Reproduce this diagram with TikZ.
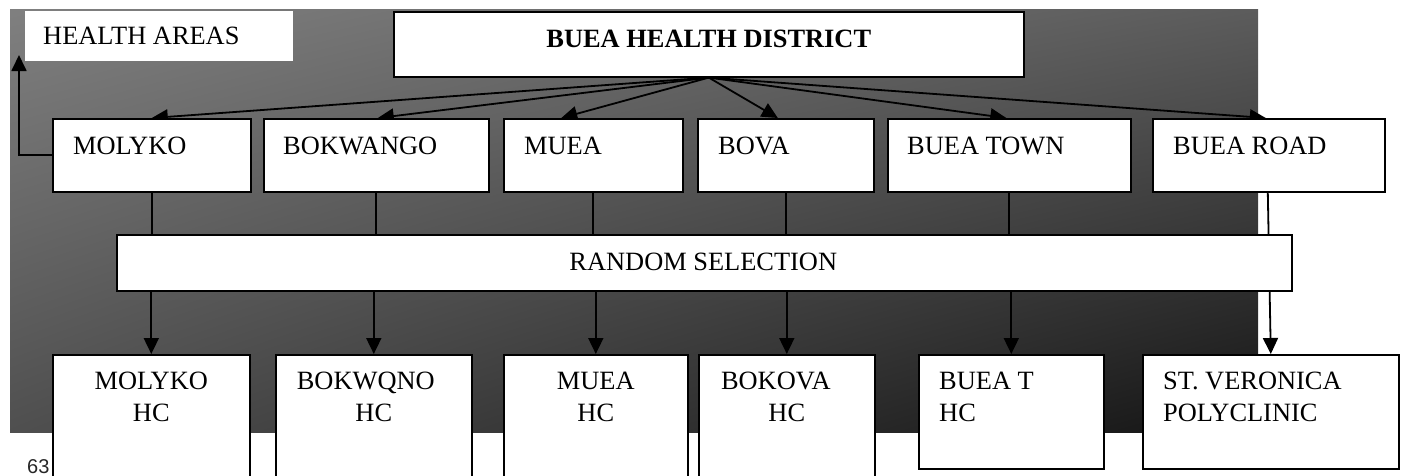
\documentclass[tikz,border=0pt]{standalone}
\usepackage{fontspec}
\setmainfont{Liberation Serif}
\newfontfamily\pagefont{Liberation Sans}
\usetikzlibrary{arrows.meta,calc,shadings}
\pgfdeclarelayer{bg}
\pgfdeclarelayer{lines}
\pgfsetlayers{bg,lines,main}
\definecolor{bgul}{gray}{0.50}
\definecolor{bgur}{gray}{0.36}
\definecolor{bgll}{gray}{0.31}
\definecolor{bglr}{gray}{0.08}
\begin{document}
\begin{tikzpicture}[x=1pt,y=-1pt,
  box/.style={draw=black, line width=1.6pt, fill=white, anchor=north west, inner sep=0pt},
  txt/.style={inner sep=0pt, font=\fontsize{26.4}{32}\selectfont},
  conn/.style={line width=1.8pt, draw=black},
  arr/.style={conn, -{Triangle[length=16pt,width=15pt]}},
]
\useasboundingbox (0,0) rectangle (1403,475);
\clip (0,0) rectangle (1403,475);

\begin{pgfonlayer}{bg}
  \shade[upper left=bgul, upper right=bgur, lower left=bgll, lower right=bglr] (10,9) rectangle (1258,432);
  \node[inner sep=0pt, anchor=base west, font=\pagefont\fontsize{20}{24}\selectfont, text=black!85] (pg) at (27,473) {63};
\end{pgfonlayer}

% boxes
\node[box, draw=none, minimum width=268pt, minimum height=50pt] (ha) at (24,10) {};
\node[box, minimum width=630pt, minimum height=65pt] (hd) at (393,11) {};

\node[box, minimum width=198pt, minimum height=73pt] (m)  at (52,118) {};
\node[box, minimum width=225pt, minimum height=73pt] (bk) at (263,118) {};
\node[box, minimum width=179pt, minimum height=73pt] (mu) at (503,118) {};
\node[box, minimum width=176pt, minimum height=73pt] (bv) at (697,118) {};
\node[box, minimum width=243pt, minimum height=73pt] (bt) at (887,118) {};
\node[box, minimum width=232pt, minimum height=73pt] (br) at (1152,118) {};

\node[box, minimum width=1175pt, minimum height=56pt] (rs) at (116,234) {};

\node[box, minimum width=197pt, minimum height=140pt] (h1) at (52,354) {};
\node[box, minimum width=196pt, minimum height=140pt] (h2) at (275,354) {};
\node[box, minimum width=184pt, minimum height=140pt] (h3) at (503,354) {};
\node[box, minimum width=176pt, minimum height=140pt] (h4) at (698,354) {};
\node[box, minimum width=185pt, minimum height=114pt] (h5) at (918,354) {};
\node[box, minimum width=256pt, minimum height=114pt] (h6) at (1142,354) {};

% texts
\node[txt, anchor=base west] at ($(ha.north west)+(19,34)$) {HEALTH AREAS};
\node[txt, anchor=base, font=\fontsize{26.4}{32}\selectfont\bfseries] at ($(hd.north)+(0,36)$) {BUEA HEALTH DISTRICT};

\node[txt, anchor=base west] at ($(m.north west)+(21,36)$)  {MOLYKO};
\node[txt, anchor=base west] at ($(bk.north west)+(20,36)$) {BOKWANGO};
\node[txt, anchor=base west] at ($(mu.north west)+(21,36)$) {MUEA};
\node[txt, anchor=base west] at ($(bv.north west)+(21,36)$) {BOVA};
\node[txt, anchor=base west] at ($(bt.north west)+(20,36)$) {BUEA TOWN};
\node[txt, anchor=base west] at ($(br.north west)+(21,36)$) {BUEA ROAD};

\node[txt, anchor=base] at ($(rs.north)+(-1,36)$) {RANDOM SELECTION};

\node[txt, anchor=base] at ($(h1.north)+(0,35)$) {MOLYKO};
\node[txt, anchor=base] at ($(h1.north)+(0,67)$) {HC};
\node[txt, anchor=base] at ($(h2.north)+(-8,35)$) {BOKWQNO};
\node[txt, anchor=base] at ($(h2.north)+(0,67)$) {HC};
\node[txt, anchor=base] at ($(h3.north)+(0,35)$) {MUEA};
\node[txt, anchor=base] at ($(h3.north)+(0,67)$) {HC};
\node[txt, anchor=base] at ($(h4.north)+(-11,35)$) {BOKOVA};
\node[txt, anchor=base] at ($(h4.north)+(0,67)$) {HC};
\node[txt, anchor=base west] at ($(h5.north west)+(21,35)$) {BUEA T};
\node[txt, anchor=base west] at ($(h5.north west)+(21,67)$) {HC};
\node[txt, anchor=base west] at ($(h6.north west)+(21,35)$) {ST. VERONICA};
\node[txt, anchor=base west] at ($(h6.north west)+(21,67)$) {POLYCLINIC};

\coordinate (hatip) at (19,55);

\begin{pgfonlayer}{lines}
  % district to health areas
  \draw[arr] (hd.south) -- (m.north);
  \draw[arr] (hd.south) -- ([xshift=1.5pt]bk.north);
  \draw[arr] (hd.south) -- ([xshift=-32pt]mu.north);
  \draw[arr] (hd.south) -- ([xshift=-8pt]bv.north);
  \draw[arr] (hd.south) -- ([xshift=-3pt]bt.north);
  \draw[arr] (hd.south) -- ([xshift=-3pt]br.north);
  % health areas label
  \draw[arr] (m.west) -| (hatip);
  % to random selection
  \draw[conn] (m.south) -- (m.south |- rs.north);
  \draw[conn] (bk.south) -- (bk.south |- rs.north);
  \draw[conn] (mu.south) -- (mu.south |- rs.north);
  \draw[conn] (bv.south) -- (bv.south |- rs.north);
  \draw[conn] (bt.south) -- (bt.south |- rs.north);
  % random selection to health centres
  \draw[arr] (rs.south -| h1.north) -- (h1.north);
  \draw[arr] (rs.south -| h2.north) -- (h2.north);
  \draw[arr] (rs.south -| h3.north) -- (h3.north);
  \draw[arr] (rs.south -| h4.north) -- (h4.north);
  \draw[arr] (rs.south -| h5.north) -- (h5.north);
  % buea road straight down behind the random selection box
  \draw[arr] ([xshift=-1pt]br.south) -- (h6.north);
\end{pgfonlayer}
\end{tikzpicture}
\end{document}
